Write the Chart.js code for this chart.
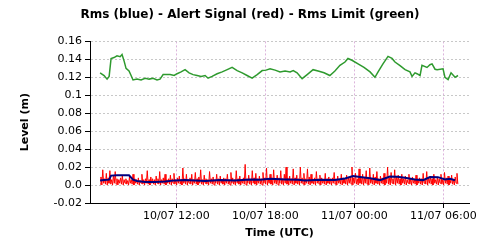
<!DOCTYPE html>
<html>
<head>
<meta charset="utf-8">
<script src="https://cdn.jsdelivr.net/npm/chart.js@4"></script>
<style>
  html, body { margin: 0; padding: 0; background: #fff; }
  #graphDiv { width: 500px; height: 250px; }
</style>
</head>
<body>
<div id="graphDiv"><canvas id="dataChart" width="500" height="250"></canvas></div>
<script>
// Heures depuis le 10/07 00:00 (UTC)
const limitHours = [6.86, 7.13, 7.33, 7.47, 7.60, 7.80, 8.00, 8.21, 8.34, 8.48, 8.61, 8.81, 8.95, 9.08, 9.35, 9.62,
  9.90, 10.16, 10.43, 10.70, 10.90, 11.11, 11.58, 11.85, 12.05, 12.32, 12.59, 12.86, 13.13, 13.40, 13.67,
  13.94, 14.14, 14.41, 14.75, 15.09, 15.43, 15.76, 16.10, 16.44, 16.77, 17.11, 17.45, 17.79, 18.05, 18.32,
  18.66, 18.99, 19.33, 19.67, 19.88, 20.14, 20.48, 20.82, 21.22, 21.56, 21.96, 22.35, 22.69, 23.03, 23.37,
  23.57, 23.84, 24.25, 24.65, 25.06, 25.39, 25.60, 25.93, 26.27, 26.54, 26.74, 27.08, 27.42, 27.75, 27.89,
  28.09, 28.22, 28.43, 28.56, 28.90, 29.10, 29.24, 29.44, 29.58, 29.98, 30.11, 30.32, 30.52, 30.79, 30.99];
const rmsLimit = [0.125, 0.122, 0.118, 0.121, 0.141, 0.142, 0.144, 0.143, 0.1455, 0.138, 0.130, 0.127, 0.122, 0.117, 0.118, 0.117,
  0.119, 0.118, 0.119, 0.117, 0.118, 0.123, 0.123, 0.122, 0.124, 0.126, 0.1285, 0.125, 0.123, 0.122, 0.121,
  0.122, 0.119, 0.121, 0.124, 0.126, 0.1285, 0.131, 0.1275, 0.125, 0.122, 0.119, 0.123, 0.1275, 0.128, 0.1295,
  0.128, 0.126, 0.127, 0.126, 0.1275, 0.125, 0.1185, 0.123, 0.1285, 0.127, 0.125, 0.122, 0.127, 0.1333, 0.137,
  0.141, 0.139, 0.135, 0.131, 0.126, 0.120, 0.126, 0.135, 0.1433, 0.141, 0.137, 0.133, 0.1285, 0.126, 0.121,
  0.125, 0.124, 0.122, 0.1333, 0.131, 0.134, 0.135, 0.129, 0.1285, 0.1295, 0.120, 0.1175, 0.125, 0.120, 0.122];

const rmsHours = [6.86, 7.13, 7.47, 7.60, 8.00, 8.48, 8.81, 9.08, 9.35, 9.90, 10.56, 11.24, 11.92, 12.59, 13.27,
  13.94, 14.95, 15.96, 16.98, 17.65, 18.32, 19.33, 20.21, 20.68, 21.69, 22.69, 23.37, 23.91, 24.38, 25.06,
  25.73, 26.40, 26.88, 27.42, 28.09, 28.63, 29.10, 29.64, 30.11, 30.45, 30.79];
const rmsValues = [0.0050, 0.0055, 0.0060, 0.0105, 0.0110, 0.0110, 0.0108, 0.0060, 0.0045, 0.0035, 0.0033, 0.0040,
  0.0052, 0.0055, 0.0050, 0.0045, 0.0055, 0.0050, 0.0063, 0.0060, 0.0070, 0.0063, 0.0060, 0.0050, 0.0058,
  0.0055, 0.0074, 0.0100, 0.0090, 0.0075, 0.0055, 0.0095, 0.0092, 0.0080, 0.0063, 0.0055, 0.0090, 0.0088,
  0.0063, 0.0070, 0.0054];

// Signal d'alerte : un échantillon toutes les 0.06 h à partir de 6.86 h
const alertStart = 6.86;
const alertStep = 0.06;
const alertValues = [
  0.001, 0.009, 0.000, 0.017, 0.002, 0.007, 0.001, 0.013, 0.000, 0.008, 0.002, 0.016, 0.001, 0.006, 0.000, 0.011, 0.002, 0.015, 0.001, 0.007,
  0.000, 0.006, 0.002, 0.008, 0.001, 0.011, 0.000, 0.006, 0.002, 0.007, 0.001, 0.005, 0.000, 0.009, 0.002, 0.006, 0.001, 0.012, 0.000, 0.007,
  0.002, 0.006, 0.001, 0.008, 0.000, 0.005, 0.002, 0.012, 0.001, 0.006, 0.000, 0.007, 0.002, 0.016, 0.001, 0.006, 0.000, 0.009, 0.002, 0.007,
  0.001, 0.006, 0.000, 0.010, 0.002, 0.007, 0.001, 0.015, 0.000, 0.006, 0.002, 0.008, 0.001, 0.012, 0.000, 0.006, 0.002, 0.007, 0.001, 0.011,
  0.000, 0.007, 0.002, 0.013, 0.001, 0.006, 0.000, 0.008, 0.002, 0.010, 0.001, 0.006, 0.000, 0.019, 0.002, 0.007, 0.001, 0.012, 0.000, 0.006,
  0.002, 0.008, 0.001, 0.012, 0.000, 0.006, 0.002, 0.014, 0.001, 0.007, 0.000, 0.009, 0.002, 0.017, 0.001, 0.006, 0.000, 0.011, 0.002, 0.007,
  0.001, 0.006, 0.000, 0.015, 0.002, 0.007, 0.001, 0.009, 0.000, 0.006, 0.002, 0.012, 0.001, 0.007, 0.000, 0.010, 0.002, 0.006, 0.001, 0.008,
  0.000, 0.007, 0.002, 0.012, 0.001, 0.006, 0.000, 0.014, 0.002, 0.008, 0.001, 0.006, 0.000, 0.016, 0.002, 0.007, 0.001, 0.010, 0.000, 0.006,
  0.002, 0.008, 0.001, 0.023, 0.000, 0.007, 0.002, 0.011, 0.001, 0.006, 0.000, 0.016, 0.002, 0.008, 0.001, 0.013, 0.000, 0.007, 0.002, 0.010,
  0.001, 0.007, 0.000, 0.014, 0.002, 0.008, 0.001, 0.019, 0.000, 0.006, 0.002, 0.012, 0.001, 0.008, 0.000, 0.017, 0.002, 0.007, 0.001, 0.011,
  0.000, 0.008, 0.002, 0.016, 0.001, 0.007, 0.000, 0.012, 0.002, 0.020, 0.001, 0.008, 0.000, 0.010, 0.002, 0.007, 0.001, 0.018, 0.000, 0.008,
  0.002, 0.011, 0.001, 0.007, 0.000, 0.020, 0.002, 0.008, 0.001, 0.013, 0.000, 0.007, 0.002, 0.018, 0.001, 0.009, 0.000, 0.012, 0.002, 0.007,
  0.001, 0.008, 0.000, 0.015, 0.002, 0.007, 0.001, 0.011, 0.000, 0.008, 0.002, 0.006, 0.001, 0.013, 0.000, 0.007, 0.002, 0.009, 0.001, 0.007,
  0.000, 0.008, 0.002, 0.014, 0.001, 0.007, 0.000, 0.010, 0.002, 0.006, 0.001, 0.012, 0.000, 0.008, 0.002, 0.007, 0.001, 0.011, 0.000, 0.008,
  0.002, 0.009, 0.001, 0.020, 0.000, 0.008, 0.002, 0.013, 0.001, 0.007, 0.000, 0.018, 0.002, 0.009, 0.001, 0.012, 0.000, 0.008, 0.002, 0.016,
  0.001, 0.008, 0.000, 0.019, 0.002, 0.007, 0.001, 0.012, 0.000, 0.009, 0.002, 0.015, 0.001, 0.007, 0.000, 0.010, 0.002, 0.008, 0.001, 0.013,
  0.000, 0.009, 0.002, 0.020, 0.001, 0.008, 0.000, 0.014, 0.002, 0.007, 0.001, 0.017, 0.000, 0.009, 0.002, 0.011, 0.001, 0.007, 0.000, 0.012,
  0.002, 0.007, 0.001, 0.010, 0.000, 0.006, 0.002, 0.012, 0.001, 0.007, 0.000, 0.009, 0.002, 0.006, 0.001, 0.011, 0.000, 0.007, 0.002, 0.008,
  0.001, 0.007, 0.000, 0.013, 0.002, 0.006, 0.001, 0.015, 0.000, 0.008, 0.002, 0.010, 0.001, 0.007, 0.000, 0.012, 0.002, 0.006, 0.001, 0.009,
  0.000, 0.007, 0.002, 0.012, 0.001, 0.006, 0.000, 0.014, 0.002, 0.008, 0.001, 0.010, 0.000, 0.007, 0.002, 0.011, 0.001, 0.006, 0.000, 0.009,
  0.002, 0.013, 0.001];

const xMin = 6.18;
const xMax = 31.73;
const yMin = -0.02;
const yMax = 0.16;

/**
 * Formate une heure (depuis le 10/07 00:00) en "jj/07 hh:mm"
 */
function formatHour(h) {
    const day = 10 + Math.floor(h / 24);
    const hh = Math.round(h % 24);
    return day + '/07 ' + String(hh).padStart(2, '0') + ':00';
}

function toPoints(xs, ys) {
    return ys.map((v, i) => ({ x: xs[i], y: v }));
}

const alertPoints = alertValues.map((v, i) => ({ x: alertStart + i * alertStep, y: v }));

const ctx = document.getElementById('dataChart').getContext('2d');
const font = 'DejaVu Sans, Verdana, sans-serif';

const dataChart = new Chart(ctx, {
    type: 'line',
    data: {
        datasets: [{
            label: 'Rms',
            data: toPoints(rmsHours, rmsValues),
            borderColor: '#000080',
            borderWidth: 2,
            pointRadius: 0,
            tension: 0
        }, {
            label: 'Alert Signal',
            data: alertPoints,
            borderColor: '#ff0000',
            borderWidth: 1,
            pointRadius: 0,
            tension: 0
        }, {
            label: 'Rms Limit',
            data: toPoints(limitHours, rmsLimit),
            borderColor: '#2e9a2e',
            borderWidth: 1.5,
            pointRadius: 0,
            tension: 0
        }]
    },
    options: {
        responsive: false,
        animation: false,
        layout: { padding: 0 },
        plugins: {
            legend: { display: false },
            tooltip: { enabled: false },
            title: {
                display: true,
                text: 'Rms (blue) - Alert Signal (red) - Rms Limit (green)',
                color: '#000',
                font: { family: font, size: 12, weight: 'bold' },
                padding: { top: 8, bottom: 19 }
            }
        },
        scales: {
            x: {
                type: 'linear',
                min: xMin,
                max: xMax,
                afterFit: scale => { scale.height = 47; },
                ticks: {
                    stepSize: 6,
                    includeBounds: false,
                    autoSkip: false,
                    maxRotation: 0,
                    padding: 2,
                    color: '#000',
                    font: { family: font, size: 11 },
                    callback: v => formatHour(v)
                },
                grid: {
                    color: '#dcb4dc',
                    tickColor: '#000',
                    tickLength: 5
                },
                border: { color: '#000', width: 1, dash: [2, 2] },
                title: {
                    display: true,
                    text: 'Time (UTC)',
                    color: '#000',
                    font: { family: font, size: 11, weight: 'bold' },
                    padding: { top: 0, bottom: 10 }
                }
            },
            y: {
                min: yMin,
                max: yMax,
                afterFit: scale => { scale.width = 90; },
                ticks: {
                    stepSize: 0.02,
                    padding: 3,
                    color: '#000',
                    font: { family: font, size: 11 },
                    callback: v => {
                        const r = Math.round(v * 100) / 100;
                        return r === 0 ? '0.0' : String(r);
                    }
                },
                grid: {
                    color: '#c8c8c8',
                    tickColor: '#000',
                    tickLength: 5
                },
                border: { color: '#000', width: 1, dash: [2, 2] },
                title: {
                    display: true,
                    text: 'Level (m)',
                    color: '#000',
                    font: { family: font, size: 11, weight: 'bold' },
                    padding: { top: 19, bottom: 0 }
                }
            },
            // axe vide à droite, pour garder la marge sans décaler le titre
            marge: {
                type: 'linear',
                position: 'right',
                min: yMin,
                max: yMax,
                afterFit: scale => { scale.width = 31; },
                ticks: { display: false },
                grid: { display: false, drawTicks: false },
                border: { display: false }
            }
        }
    }
});
</script>
</body>
</html>
